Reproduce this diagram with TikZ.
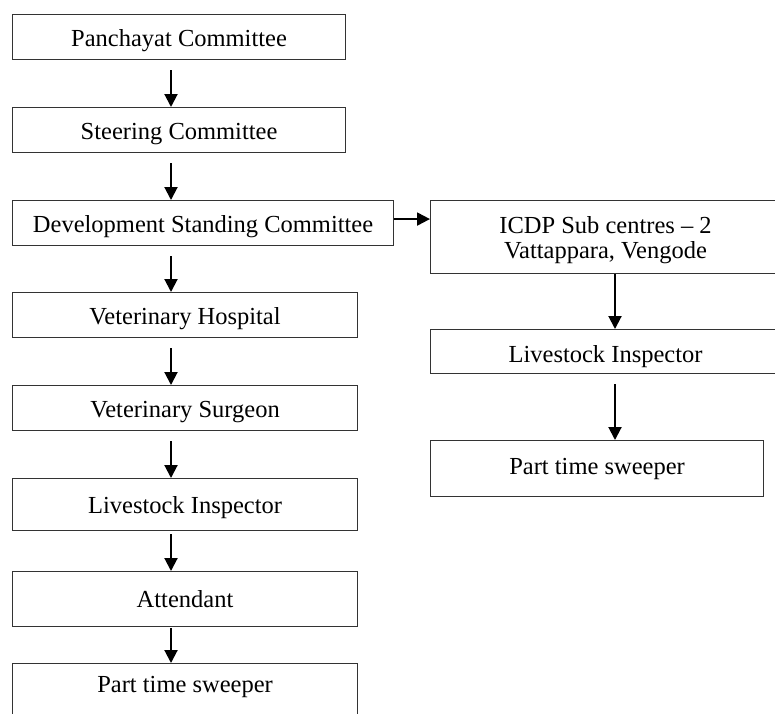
\documentclass[tikz,border=0pt]{standalone}
\usepackage{fontspec}
\setmainfont{Liberation Serif}
\usetikzlibrary{arrows.meta}

\begin{document}
\begin{tikzpicture}[>={Triangle[width=13pt,length=13pt]}, x=1pt, y=-1pt]
  \tikzset{orgbox/.style = { draw=black!80, line width=1.1pt, rectangle, anchor=north west, inner sep=0pt, font=\fontsize{24.5}{25}\selectfont, align=center }}
  \tikzset{lowtext/.style = { text height=20pt, text depth=2pt }}
  \tikzset{flow/.style = { ->, line width=2pt }}
  \useasboundingbox (0,0) rectangle (775,713);
  % \draw [gray, very thin] (0,0) grid[step=50] (775,713);

  \coordinate (ax) at (171,0);
  \coordinate (bx) at (615,0);

  % left column
  \node[name = pc, orgbox, lowtext, minimum width=333pt, minimum height=45pt] at (12,14) {Panchayat Committee};
  \node[name = sc, orgbox, lowtext, minimum width=333pt, minimum height=45pt] at (12,107) {Steering Committee};
  \node[name = dsc, orgbox, lowtext, minimum width=381pt, minimum height=45pt] at (12,200) {Development Standing Committee};
  \node[name = vh, orgbox, lowtext, minimum width=345pt, minimum height=45pt] at (12,292) {Veterinary Hospital};
  \node[name = vs, orgbox, lowtext, minimum width=345pt, minimum height=45pt] at (12,385) {Veterinary Surgeon};
  \node[name = li, orgbox, lowtext, minimum width=345pt, minimum height=52pt] at (12,478) {Livestock Inspector};
  \node[name = at, orgbox, minimum width=345pt, minimum height=55pt] at (12,571) {Attendant};
  \node[name = ps, orgbox, minimum width=345pt, text height=20pt, text depth=30pt, inner ysep=9pt] at (12,663) {Part time sweeper};

  \draw [flow] ([yshift=-10pt]pc.south -| ax) -- (sc.north -| ax);
  \draw [flow] ([yshift=-10pt]sc.south -| ax) -- (dsc.north -| ax);
  \draw [flow] ([yshift=-10pt]dsc.south -| ax) -- (vh.north -| ax);
  \draw [flow] ([yshift=-10pt]vh.south -| ax) -- (vs.north -| ax);
  \draw [flow] ([yshift=-10pt]vs.south -| ax) -- (li.north -| ax);
  \draw [flow] ([yshift=-3pt]li.south -| ax) -- (at.north -| ax);
  \draw [flow] ([yshift=-1pt]at.south -| ax) -- (ps.north -| ax);

  % right column
  \node[name = icdp, orgbox, text depth=0pt, minimum width=350pt, minimum height=73pt] at (430,200) {ICDP Sub centres -- 2\\Vattappara, Vengode};
  \node[name = li2, orgbox, text height=22pt, text depth=0pt, minimum width=350pt, minimum height=44pt] at (430,329) {Livestock Inspector};
  \node[name = ps2, orgbox, minimum width=333pt, minimum height=56pt] at (430,440) {Part time sweeper};

  \draw [flow] ([yshift=4pt]dsc.east) -- ([yshift=4pt]dsc.east -| icdp.west);
  \draw [flow] (icdp.south -| bx) -- (li2.north -| bx);
  \draw [flow] ([yshift=-10pt]li2.south -| bx) -- (ps2.north -| bx);
\end{tikzpicture}
\end{document}
